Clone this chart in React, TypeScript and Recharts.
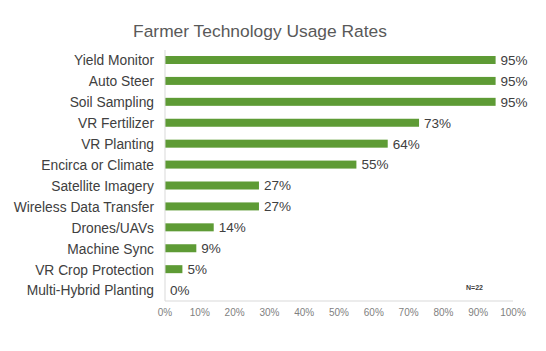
import { Bar, BarChart, XAxis, YAxis } from "recharts"

const categories = [
  "Yield Monitor",
  "Auto Steer",
  "Soil Sampling",
  "VR Fertilizer",
  "VR Planting",
  "Encirca or Climate",
  "Satellite Imagery",
  "Wireless Data Transfer",
  "Drones/UAVs",
  "Machine Sync",
  "VR Crop Protection",
  "Multi-Hybrid Planting",
]
const usage = [95, 95, 95, 73, 64, 55, 27, 27, 14, 9, 5, 0]
const xTicks = [0, 10, 20, 30, 40, 50, 60, 70, 80, 90, 100]

const FONT = "'Liberation Sans', Arial, sans-serif"
const GREEN = "#5E9B35"

const data = categories.map((name, i) => ({ name, value: usage[i] }))

// bar + its value label drawn together so the 0% row still gets a label
function BarWithLabel(props: any) {
  const { x, y, width, height, value } = props
  const v = Array.isArray(value) ? value[1] - value[0] : value
  const w = Math.max(0, width || 0)
  return (
    <g>
      {w > 0 && <rect x={x} y={y} width={w} height={height} fill={GREEN} />}
      <text
        x={x + w + 5}
        y={y + height / 2}
        dy="0.36em"
        fontSize={13.5}
        fill="#404040"
        fontFamily={FONT}
      >
        {`${v}%`}
      </text>
    </g>
  )
}

export default function App() {
  return (
    <div style={{ position: "absolute", left: 0, top: 0, width: 546, height: 351, background: "#fff", fontFamily: FONT }}>
      <div
        style={{
          position: "absolute",
          left: 0,
          width: 520,
          top: 21,
          textAlign: "center",
          fontSize: 17.4,
          color: "#595959",
        }}
      >
        Farmer Technology Usage Rates
      </div>
      <BarChart
        width={546}
        height={351}
        data={data}
        layout="vertical"
        margin={{ top: 50, right: 33, left: 0, bottom: 30 }}
      >
        <XAxis
          type="number"
          domain={[0, 100]}
          ticks={xTicks}
          tickFormatter={(v) => `${v}%`}
          axisLine={{ stroke: "#d9d9d9" }}
          tickLine={false}
          height={20}
          tick={{ fontSize: 10, fill: "#7f7f7f", fontFamily: FONT }}
          interval={0}
        />
        <YAxis
          type="category"
          dataKey="name"
          width={165}
          axisLine={{ stroke: "#d9d9d9" }}
          tickLine={false}
          tickMargin={5}
          interval={0}
          tick={{ fontSize: 13.8, fill: "#404040", fontFamily: FONT }}
        />
        <Bar dataKey="value" fill={GREEN} barSize={8} isAnimationActive={false} shape={BarWithLabel} />
      </BarChart>
      <div
        style={{
          position: "absolute",
          left: 466,
          top: 284,
          fontSize: 7,
          fontWeight: "bold",
          color: "#404040",
        }}
      >
        N=22
      </div>
    </div>
  )
}
